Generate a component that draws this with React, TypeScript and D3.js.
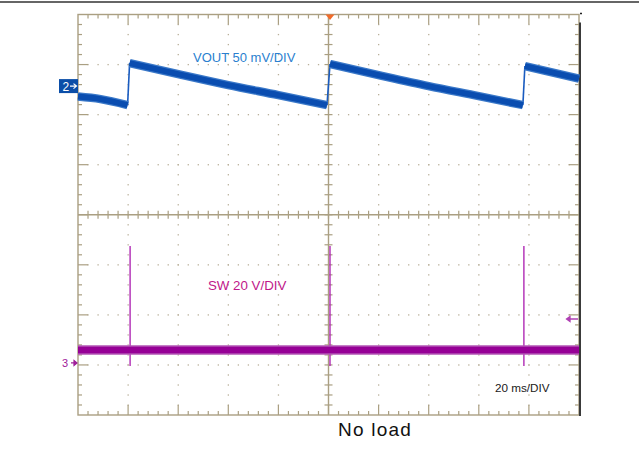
import React from 'react';
import * as d3 from 'd3';

const W = 639;
const H = 452;

// scope settings
const timeDomain: [number, number] = [-100, 100]; // ms, 20 ms/div, 10 div
const divDomain: [number, number] = [-4, 4]; // 8 vertical divisions
const voutPerDiv = 50; // mV/div
const swPerDiv = 20; // V/div
const ch2Offset = 2.57; // divisions above centre
const ch3Offset = -2.96;

// VOUT ripple (ms, mV relative to ch2 marker), one array per ramp
const voutRamps: [number, number][][] = [
  [[-100, -10.5], [-91, -13], [-80.2, -19]],
  [[-79.4, 23], [-60, 12], [-40, 1], [-20, -9], [-0.6, -19]],
  [[0.6, 22], [20, 11], [40, 0], [60, -10], [77.6, -19]],
  [[78.4, 20], [100, 7.5]],
];

// SW node (ms, V relative to ch3 marker)
const swBaseline: [number, number][] = [[-100, 5.2], [100, 5.2]];
const swSpikeTimes = [-79.2, 0.6, 78.0];
const swSpikeRange: [number, number] = [-1.2, 46.7];

const tan = '#aa9f82';
const dotColor = '#b9b09a';
const font = '"Liberation Sans", Arial, sans-serif';

export default function App() {
  const x = d3.scaleLinear().domain(timeDomain).range([78, 579]);
  const y = d3.scaleLinear().domain(divDomain).range([415, 14.5]);
  const yV = (mv: number) => y(ch2Offset + mv / voutPerDiv);
  const yS = (v: number) => y(ch3Offset + v / swPerDiv);

  const voutLine = d3.line<[number, number]>().x(d => x(d[0])).y(d => yV(d[1])).curve(d3.curveMonotoneX);
  const swLine = d3.line<[number, number]>().x(d => x(d[0])).y(d => yS(d[1]));

  const xMajor = d3.range(-100, 100.01, 20);
  const xMinor = d3.range(-96, 96.01, 4);
  const yMajor = d3.range(-4, 4.01, 1);
  const yMinor = d3.range(-3.8, 3.81, 0.2);
  const isMajX = (v: number) => Math.abs(v / 20 - Math.round(v / 20)) < 1e-6;
  const isMajY = (v: number) => Math.abs(v - Math.round(v)) < 1e-6;

  const [x0, x1] = x.range();
  const [y0, y1] = y.range(); // y0 bottom, y1 top

  const dots: JSX.Element[] = [];
  xMajor.filter(v => v !== 0 && v > -100 && v < 100).forEach(xv => {
    yMinor.forEach(yv => {
      dots.push(<rect key={`v${xv}_${yv.toFixed(1)}`} x={x(xv) - 0.6} y={y(yv) - 0.6} width={1.3} height={1.3} fill={dotColor} />);
    });
  });
  yMajor.filter(v => v !== 0 && v > -4 && v < 4).forEach(yv => {
    xMinor.forEach(xv => {
      dots.push(<rect key={`h${xv}_${yv}`} x={x(xv) - 0.6} y={y(yv) - 0.6} width={1.3} height={1.3} fill={dotColor} />);
    });
  });

  const ticks: JSX.Element[] = [];
  xMinor.forEach(xv => {
    const len = isMajX(xv) ? 10 : 4;
    ticks.push(<line key={`tt${xv}`} x1={x(xv)} x2={x(xv)} y1={y1} y2={y1 + len} />);
    ticks.push(<line key={`tb${xv}`} x1={x(xv)} x2={x(xv)} y1={y0} y2={y0 - len} />);
    ticks.push(<line key={`tc${xv}`} x1={x(xv)} x2={x(xv)} y1={y(0) - 4} y2={y(0) + 4} />);
  });
  yMinor.forEach(yv => {
    const len = isMajY(yv) ? 10 : 4;
    ticks.push(<line key={`tl${yv.toFixed(1)}`} x1={x0} x2={x0 + len} y1={y(yv)} y2={y(yv)} />);
    ticks.push(<line key={`tr${yv.toFixed(1)}`} x1={x1} x2={x1 - len} y1={y(yv)} y2={y(yv)} />);
    ticks.push(<line key={`tm${yv.toFixed(1)}`} x1={x(0) - 4} x2={x(0) + 4} y1={y(yv)} y2={y(yv)} />);
  });

  const jumps = voutRamps.slice(1).map((r, i) => {
    const prev = voutRamps[i][voutRamps[i].length - 1];
    const next = r[0];
    return { x1: x(prev[0]), y1: yV(prev[1]), x2: x(next[0]), y2: yV(next[1]) };
  });

  const trig = x(0) + 1.5;

  return (
    <svg width={W} height={H} style={{ position: 'absolute', left: 0, top: 0, background: '#fff' }}>
      <line x1={0} x2={W} y1={2} y2={2} stroke="#333" strokeWidth={1.6} />

      {/* graticule */}
      <g>{dots}</g>
      <g stroke={tan} strokeWidth={1.2}>{ticks}</g>
      <line x1={x0} x2={x1} y1={y(0)} y2={y(0)} stroke={tan} strokeWidth={1.4} />
      <line x1={x(0)} x2={x(0)} y1={y1} y2={y0} stroke={tan} strokeWidth={1.4} />
      <rect x={x0} y={y1} width={x1 - x0} height={y0 - y1} fill="none" stroke={tan} strokeWidth={1.4} />
      <line x1={x1 + 1} x2={x1 + 1} y1={y1 + 8} y2={y0 + 1} stroke="#3a3a3a" strokeWidth={2} />
      <line x1={x1 + 1} x2={x1 + 3} y1={y1 - 1} y2={y1 - 1} stroke="#222" strokeWidth={1.5} />

      {/* VOUT */}
      {jumps.map((j, i) => (
        <line key={`j${i}`} x1={j.x1} y1={j.y1} x2={j.x2} y2={j.y2} stroke="#1a5cc0" strokeWidth={1.6} />
      ))}
      {voutRamps.map((r, i) => (
        <g key={`r${i}`}>
          <path d={voutLine(r) || ''} fill="none" stroke="#3a78c8" strokeWidth={8.5} />
          <path d={voutLine(r) || ''} fill="none" stroke="#0a4db0" strokeWidth={6} />
        </g>
      ))}

      {/* SW */}
      {swSpikeTimes.map((t, i) => (
        <line key={`s${i}`} x1={x(t)} x2={x(t)} y1={yS(swSpikeRange[0])} y2={yS(swSpikeRange[1])} stroke="#b02ab4" strokeWidth={1.4} />
      ))}
      <path d={swLine(swBaseline) || ''} fill="none" stroke="#b254b4" strokeWidth={9.5} />
      <path d={swLine(swBaseline) || ''} fill="none" stroke="#960096" strokeWidth={6.5} />

      {/* markers */}
      <path d={`M${trig - 4.5},${y1} L${trig + 4.5},${y1} L${trig},${y1 + 5.5} Z`} fill="#f26b2a" />
      <rect x={59} y={yV(0) - 7} width={19} height={14} fill="#0b4ea8" />
      <text x={62.5} y={yV(0) + 4.5} fontSize={12} fill="#fff" fontFamily={font}>2</text>
      <path d={`M70,${yV(0)} L76,${yV(0)} M73.5,${yV(0) - 2.5} L76.5,${yV(0)} L73.5,${yV(0) + 2.5}`} stroke="#fff" strokeWidth={1.2} fill="none" />

      <text x={62} y={yS(0) + 4.5} fontSize={11} fill="#a0209a" fontFamily={font}>3</text>
      <path d={`M71,${yS(0)} L77,${yS(0)} M74,${yS(0) - 2.5} L77,${yS(0)} L74,${yS(0) + 2.5} Z`} stroke="#a0209a" strokeWidth={1.2} fill="#a0209a" />

      <path d={`M567,319 L578,319 M570,316.5 L566.5,319 L570,321.5 Z`} stroke="#b040b4" strokeWidth={1.3} fill="#b040b4" />

      {/* labels */}
      <text x={193} y={62} fontSize={13} fill="#2a7fcf" fontFamily={font}>VOUT 50 mV/DIV</text>
      <text x={208} y={290} fontSize={13.3} fill="#c0168a" fontFamily={font}>SW 20 V/DIV</text>
      <text x={495} y={392} fontSize={11.7} fill="#1a1a1a" fontFamily={font}>20 ms/DIV</text>
      <text x={375} y={436} fontSize={19} letterSpacing={1.2} fill="#111" fontFamily={font} textAnchor="middle">No load</text>
    </svg>
  );
}
